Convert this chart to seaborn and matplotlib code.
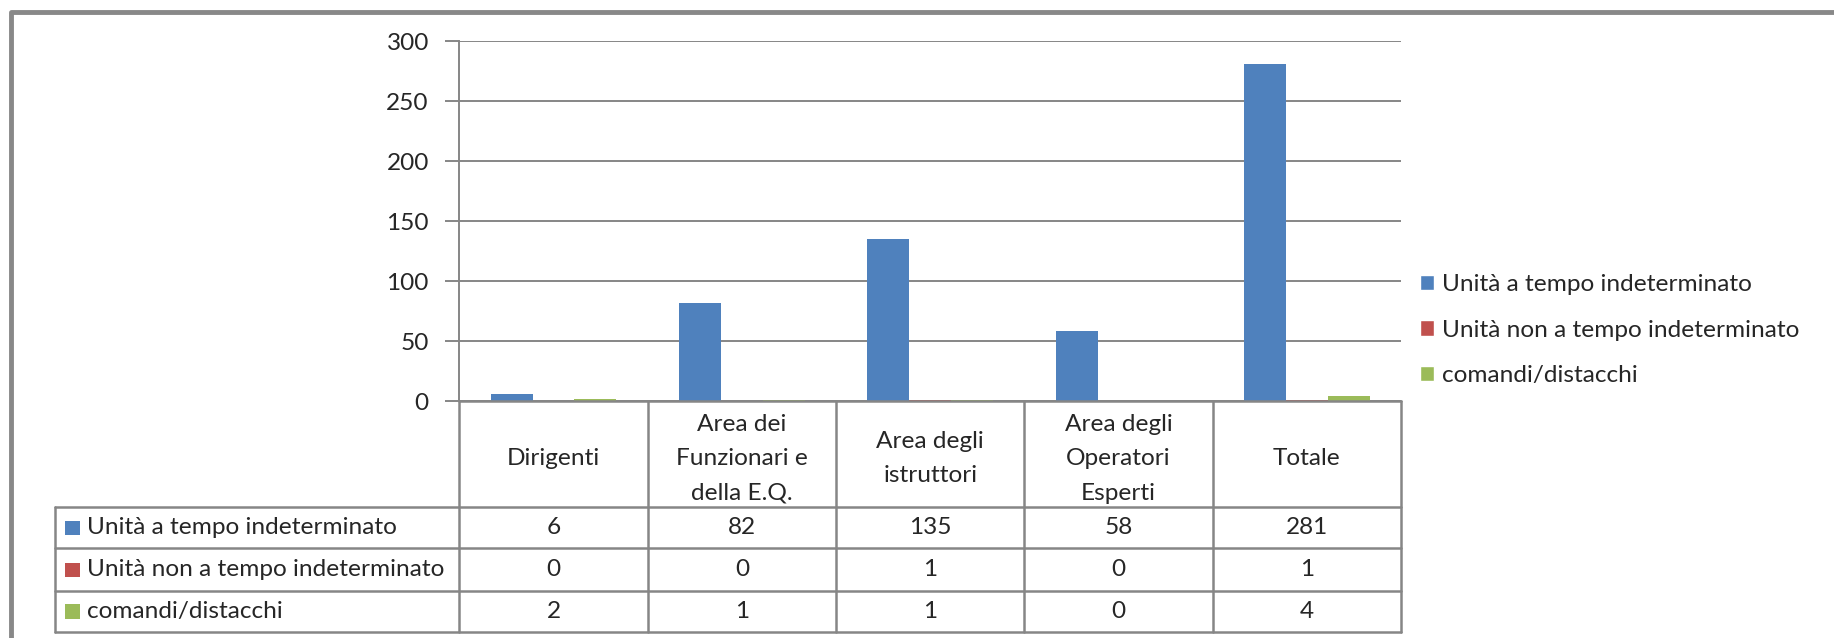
import pandas as pd
import numpy as np
import matplotlib.pyplot as plt
import seaborn as sns
from matplotlib.lines import Line2D
from matplotlib.patches import Rectangle

categorie = ["Dirigenti", "Area dei\nFunzionari e\ndella E.Q.", "Area degli\nistruttori",
             "Area degli\nOperatori\nEsperti", "Totale"]
serie = ["Unità a tempo indeterminato", "Unità non a tempo indeterminato", "comandi/distacchi"]
tempo_indet = [6, 82, 135, 58, 281]
non_tempo_indet = [0, 0, 1, 0, 1]
comandi = [2, 1, 1, 0, 4]
colori = ["#4F81BD", "#C0504D", "#9BBB59"]

valori = [tempo_indet, non_tempo_indet, comandi]
df = pd.DataFrame({
    "categoria": categorie * 3,
    "serie": np.repeat(serie, len(categorie)),
    "valore": tempo_indet + non_tempo_indet + comandi,
})

sns.set_style("white")
plt.rcParams['font.family'] = ['Lato', 'DejaVu Sans']
FS = 17.6
GRID = "#868686"

W, H = 1834, 638
S = 1834 / 1555  # coordinate misurate sull'anteprima ridotta
fig = plt.figure(figsize=(W / 100, H / 100), dpi=100)

def fx(px):
    return px * S / W

def fy(py):
    return 1 - py * S / H

x0, x1, y_top, y0 = 389.5, 1188, 35, 340
ax = fig.add_axes([fx(x0), fy(y0), fx(x1) - fx(x0), fy(y_top) - fy(y0)])

sns.barplot(data=df, x="categoria", y="valore", hue="serie", palette=colori,
            width=0.667, gap=0, saturation=1, ax=ax, legend=False, edgecolor="none")

ax.set_xlim(-0.5, 4.5)
ax.set_ylim(0, 300)
ax.set_yticks(range(0, 301, 50))
ax.set_xticks([])
ax.set_xlabel("")
ax.set_ylabel("")
ax.yaxis.grid(True, color=GRID, lw=1.4)
ax.set_axisbelow(True)
for s in ["top", "right", "bottom"]:
    ax.spines[s].set_visible(False)
ax.spines["left"].set_color(GRID)
ax.spines["left"].set_linewidth(1.4)
ax.tick_params(axis="y", left=True, length=10, width=1.4, color=GRID, labelsize=FS, pad=12)

# legenda
maniglie = [Rectangle((0, 0), 1, 1, facecolor=c) for c in colori]
fig.legend(maniglie, serie, loc="center left", bbox_to_anchor=(fx(1185), fy(280)),
           frameon=False, fontsize=FS, handlelength=0.6, handleheight=0.6,
           handletextpad=0.3, labelspacing=1.0)

# tabella dati
def linea(xa, ya, xb, yb):
    fig.add_artist(Line2D([fx(xa), fx(xb)], [fy(ya), fy(yb)], color=GRID, lw=1.8))

col = np.linspace(x0, x1, len(categorie) + 1)
righe = [430, 465, 501, 536]
t_left = 47
linea(x0, y0, x1, y0)
for r in righe:
    linea(t_left, r, x1, r)
for c in col:
    linea(c, y0, c, righe[-1])
linea(t_left, righe[0], t_left, righe[-1])

for i, cat in enumerate(categorie):
    cx = (col[i] + col[i + 1]) / 2
    fig.text(fx(cx), fy((y0 + righe[0]) / 2 + 4), cat, ha="center", va="center",
             fontsize=FS, linespacing=1.78)

for j, (nome, vals, c) in enumerate(zip(serie, valori, colori)):
    cy = (righe[j] + righe[j + 1]) / 2
    fig.add_artist(Rectangle((fx(55), fy(cy + 6)), fx(13), fy(cy - 6) - fy(cy + 6),
                             facecolor=c, edgecolor="none", transform=fig.transFigure))
    fig.text(fx(74), fy(cy), nome, ha="left", va="center", fontsize=FS)
    for i, v in enumerate(vals):
        cx = (col[i] + col[i + 1]) / 2
        fig.text(fx(cx), fy(cy), str(v), ha="center", va="center", fontsize=FS)

# cornice esterna
fig.add_artist(Line2D([fx(9), fx(9), fx(1600)], [fy(700), fy(10), fy(10)],
                      color="#888888", lw=3.5))

plt.savefig("out.png", dpi=100)
